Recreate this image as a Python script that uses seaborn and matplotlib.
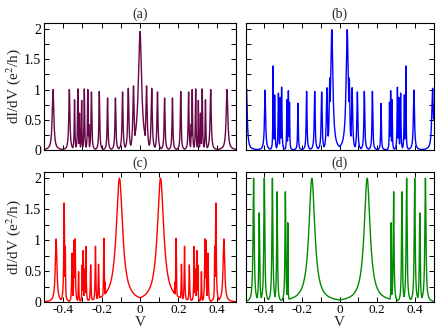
import numpy as np
import pandas as pd
import matplotlib
matplotlib.use("Agg")
import matplotlib.pyplot as plt
import seaborn as sns

# ---------------- data (peak centres / heights / half-widths) ----------------
a_center = [-0.453, -0.368, -0.341, -0.324, -0.315, -0.304, -0.290, -0.272, -0.267, -0.253,
            -0.212, -0.169, -0.128, -0.091, -0.061, -0.034, 0.000,
            0.034, 0.061, 0.091, 0.128, 0.169, 0.212, 0.253, 0.267, 0.272, 0.290,
            0.304, 0.315, 0.324, 0.341, 0.368, 0.453]
a_height = [1.00, 1.00, 0.83, 1.01, 0.61, 0.82, 1.01, 1.00, 0.43, 0.96,
            0.97, 0.86, 0.86, 0.96, 1.02, 1.06, 1.96,
            1.06, 1.02, 0.96, 0.86, 0.86, 0.97, 0.96, 0.43, 1.00, 1.01,
            0.82, 0.61, 1.01, 0.83, 1.00, 1.00]
a_width = [0.005, 0.0035, 0.002, 0.002, 0.0015, 0.0015, 0.002, 0.002, 0.0015, 0.0025,
           0.0025, 0.0025, 0.0028, 0.003, 0.0035, 0.004, 0.010,
           0.004, 0.0035, 0.003, 0.0028, 0.0025, 0.0025, 0.0025, 0.0015, 0.002, 0.002,
           0.0015, 0.0015, 0.002, 0.002, 0.0035, 0.005]

b_center = [-0.495, -0.396, -0.353, -0.345, -0.325, -0.315, -0.308, -0.280, -0.272, -0.266,
            -0.221, -0.175, -0.132, -0.095, -0.067, -0.052, -0.041,
            0.041, 0.052, 0.067, 0.095, 0.132, 0.175, 0.221, 0.266, 0.272, 0.280,
            0.308, 0.315, 0.325, 0.345, 0.353, 0.396, 0.495]
b_height = [1.02, 0.99, 1.39, 0.91, 0.94, 0.87, 1.04, 0.83, 0.98, 0.79,
            0.77, 0.97, 0.97, 0.96, 1.03, 1.19, 1.99,
            1.99, 1.19, 1.03, 0.96, 0.97, 0.97, 0.77, 0.79, 0.98, 0.83,
            1.04, 0.87, 0.94, 0.91, 1.39, 0.99, 1.02]
b_width = [0.005, 0.0035, 0.0015, 0.002, 0.002, 0.0015, 0.002, 0.0015, 0.002, 0.0015,
           0.002, 0.0025, 0.0028, 0.003, 0.0035, 0.0035, 0.007,
           0.007, 0.0035, 0.0035, 0.003, 0.0028, 0.0025, 0.002, 0.0015, 0.002, 0.0015,
           0.002, 0.0015, 0.002, 0.002, 0.0015, 0.0035, 0.005]

c_center = [-0.437, -0.395, -0.389, -0.354, -0.343, -0.338, -0.320, -0.301, -0.296, -0.289,
            -0.282, -0.257, -0.232, -0.216, -0.188, -0.181, -0.107,
            0.107, 0.181, 0.188, 0.216, 0.232, 0.257, 0.282, 0.289, 0.296, 0.301,
            0.320, 0.338, 0.343, 0.354, 0.389, 0.395, 0.437]
c_height = [1.02, 1.60, 0.90, 0.79, 1.00, 1.02, 0.49, 0.60, 0.83, 0.53,
            0.90, 0.60, 0.90, 0.61, 1.03, 0.32, 2.00,
            2.00, 0.32, 1.03, 0.61, 0.90, 0.60, 0.90, 0.53, 0.83, 0.60,
            0.49, 1.02, 1.00, 0.79, 0.90, 1.60, 1.02]
c_width = [0.005, 0.0025, 0.0015, 0.002, 0.002, 0.002, 0.0015, 0.0015, 0.0015, 0.0015,
           0.002, 0.002, 0.002, 0.002, 0.002, 0.0012, 0.020,
           0.020, 0.0012, 0.002, 0.002, 0.002, 0.002, 0.002, 0.0015, 0.0015, 0.0015,
           0.0015, 0.002, 0.002, 0.002, 0.0015, 0.0025, 0.005]

d_center = [-0.457, -0.427, -0.400, -0.357, -0.332, -0.288, -0.275, -0.147,
            0.147, 0.275, 0.288, 0.332, 0.357, 0.400, 0.427, 0.457]
d_height = [2.00, 1.44, 2.00, 2.00, 1.78, 1.78, 1.28, 2.00,
            2.00, 1.28, 1.78, 1.78, 2.00, 2.00, 1.44, 2.00]
d_width = [0.0035, 0.0025, 0.003, 0.003, 0.0025, 0.0025, 0.0012, 0.019,
           0.019, 0.0012, 0.0025, 0.0025, 0.003, 0.003, 0.0025, 0.0035]

panel_labels = ["(a)", "(b)", "(c)", "(d)"]
panel_colors = ["#670748", "#0000ff", "#ff0000", "#008b00"]
x_ticks = [-0.4, -0.2, 0.0, 0.2, 0.4]
x_ticklabels = ["-0.4", "-0.2", "0", "0.2", "0.4"]
y_ticks = [0, 0.5, 1, 1.5, 2]
y_ticklabels = ["0", "0.5", "1", "1.5", "2"]

# ---------------- build curves ----------------
v = np.linspace(-0.5, 0.5, 8001)


def spectrum(centers, heights, widths):
    c = np.asarray(centers)[:, None]
    h = np.asarray(heights)[:, None]
    w = np.asarray(widths)[:, None]
    return (h * w ** 2 / ((v[None, :] - c) ** 2 + w ** 2)).max(axis=0)


frames = []
for lab, (cc, hh, ww) in zip(panel_labels,
                             [(a_center, a_height, a_width), (b_center, b_height, b_width),
                              (c_center, c_height, c_width), (d_center, d_height, d_width)]):
    frames.append(pd.DataFrame({"V": v, "G": spectrum(cc, hh, ww), "panel": lab}))
df = pd.concat(frames, ignore_index=True)

# ---------------- style ----------------
sns.set_theme(style="ticks")
plt.rcParams["font.family"] = ["Liberation Serif", "DejaVu Serif"]
plt.rcParams["mathtext.fontset"] = "stix"
plt.rcParams["axes.unicode_minus"] = False

W, H = 436, 331
fig = plt.figure(figsize=(W / 100, H / 100), dpi=100)
boxes = {
    "(a)": (44, 23, 236, 150),
    "(b)": (245.5, 23, 433.5, 150),
    "(c)": (44, 172, 236, 302),
    "(d)": (245.5, 172, 433.5, 302),
}

for lab, col in zip(panel_labels, panel_colors):
    x0, y0, x1, y1 = boxes[lab]
    ax = fig.add_axes([x0 / W, 1 - y1 / H, (x1 - x0) / W, (y1 - y0) / H])
    sub = df[df["panel"] == lab]
    sns.lineplot(data=sub, x="V", y="G", ax=ax, color=col, lw=1.0,
                 estimator=None, sort=False, legend=False)
    ax.set_xlim(-0.5, 0.5)
    ax.set_ylim(0, 2.1)
    ax.set_xticks(x_ticks)
    ax.set_xticks([-0.5, -0.3, -0.1, 0.1, 0.3, 0.5], minor=True)
    ax.set_yticks(y_ticks)
    ax.set_yticks([0.25, 0.75, 1.25, 1.75], minor=True)
    ax.tick_params(which="both", direction="in", top=True, right=True,
                   length=3.5, width=0.7, labelsize=10, pad=2, colors="black")
    ax.tick_params(axis="x", labelsize=9.5, pad=1.5)
    for s in ax.spines.values():
        s.set_linewidth(0.8)
        s.set_color("black")
    if lab in ("(c)", "(d)"):
        ax.set_xticklabels(x_ticklabels)
        ax.set_xlabel("V", fontsize=11, labelpad=0)
    else:
        ax.set_xticklabels([])
        ax.set_xlabel("")
    if lab in ("(a)", "(c)"):
        ax.set_yticklabels(y_ticklabels)
        ax.set_ylabel("dI/dV (e$^{2}$/h)", fontsize=11, labelpad=1)
    else:
        ax.set_yticklabels([])
        ax.set_ylabel("")
    ax.set_title(lab, fontsize=10, pad=4)

fig.savefig("out.png", dpi=100)
